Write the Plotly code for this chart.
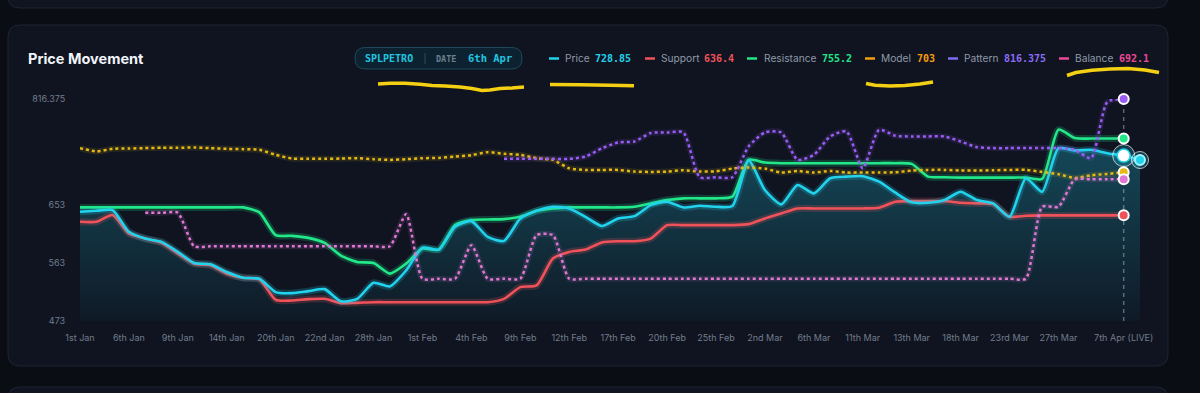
import plotly.graph_objects as go

# ---------------- data ----------------
TICK_INDEX = [0, 3, 6, 9, 12, 15, 18, 21, 24, 27, 30, 33, 36, 39, 42, 45, 48, 51, 54, 57, 60, 64]
TICK_LABELS = ["1st Jan", "6th Jan", "9th Jan", "14th Jan", "20th Jan", "22nd Jan", "28th Jan",
               "1st Feb", "4th Feb", "9th Feb", "12th Feb", "17th Feb", "20th Feb", "25th Feb",
               "2nd Mar", "6th Mar", "11th Mar", "13th Mar", "18th Mar", "23rd Mar", "27th Mar",
               "7th Apr (LIVE)"]

PRICE = [642.0, 643.5, 644.5, 610.9, 600.5, 595.4, 579.8, 562.7, 560.7, 548.7,
         539.9, 538.4, 517.7, 516.1, 519.2, 522.3, 503.5, 507.3, 532.2, 526.5,
         551.3, 586.5, 583.4, 618.7, 627.5, 603.1, 596.9, 631.6, 643.5, 649.7,
         647.1, 634.2, 620.0, 631.6, 635.2, 652.3, 657.5, 648.7, 651.3, 649.7,
         650.8, 721.2, 675.6, 653.4, 683.4, 670.4, 693.8, 696.3, 697.0, 688.6,
         671.5, 656.5, 655.9, 660.1, 673.0, 660.1, 654.9, 634.2, 693.8, 673.0,
         740.4, 736.7, 737.8, 732.6, 728.85, 722.0]

SUPPORT = [626.4, 626.4, 636.8, 608.3, 600.5, 593.8, 577.2, 561.7, 559.1, 546.2,
           539.9, 537.3, 505.8, 504.7, 506.8, 507.3, 500.6, 501.1, 502.1, 502.1,
           502.1, 502.1, 502.1, 502.1, 502.1, 502.1, 507.3, 525.4, 528.0, 569.5,
           579.8, 583.4, 594.5, 596.4, 596.4, 600.5, 621.3, 621.3, 621.3, 621.3,
           621.3, 622.8, 631.6, 639.4, 647.1, 647.1, 647.1, 647.1, 647.1, 648.2,
           657.5, 658.5, 658.5, 658.5, 655.9, 654.9, 653.9, 634.2, 635.8, 636.3,
           636.3, 636.3, 636.3, 636.3, 636.4]

RESISTANCE = [648.7, 648.7, 648.7, 648.7, 648.7, 648.7, 648.7, 648.7, 648.7, 648.7,
              648.7, 641.0, 605.7, 604.7, 601.6, 593.8, 574.0, 564.3, 562.7, 546.2,
              561.7, 585.0, 583.4, 621.3, 629.0, 630.0, 630.6, 634.2, 643.5, 647.1,
              648.7, 648.7, 648.7, 648.7, 649.7, 654.9, 660.1, 662.7, 662.7, 662.7,
              665.3, 722.2, 718.1, 717.1, 717.1, 717.1, 717.1, 717.1, 717.1, 717.1,
              717.1, 716.0, 696.3, 695.3, 694.8, 694.8, 694.8, 694.8, 694.8, 692.7,
              768.9, 755.9, 755.2, 755.2, 755.2]

MODEL = [740.4, 735.2, 739.3, 739.8, 740.4, 740.9, 740.9, 741.4, 740.4, 739.3,
         738.8, 737.8, 730.0, 724.3, 723.8, 723.8, 724.3, 724.8, 723.3, 722.2,
         723.3, 724.8, 725.3, 727.4, 729.5, 734.2, 731.6, 730.0, 724.8, 722.2,
         709.3, 706.7, 706.7, 706.7, 704.1, 703.6, 704.1, 706.2, 704.1, 704.6,
         708.8, 710.3, 708.8, 702.6, 705.1, 702.6, 705.1, 702.6, 702.6, 702.6,
         703.1, 705.7, 706.7, 706.7, 705.7, 705.7, 706.2, 706.7, 706.7, 703.6,
         700.0, 694.3, 698.4, 700.5, 703]

PATTERN = [None, None, None, None, None, None, None, None, None, None,
           None, None, None, None, None, None, None, None, None, None,
           None, None, None, None, None, None, 723.8, 723.8, 723.8, 723.8,
           723.8, 727.4, 740.0, 749.2, 750.7, 763.7, 764.7, 764.7, 695.3, 695.3,
           695.3, 743.0, 764.7, 764.7, 722.2, 730.0, 758.5, 766.3, 709.3, 768.8,
           759.5, 758.5, 758.5, 758.5, 750.7, 741.9, 740.4, 740.4, 740.4, 740.4,
           740.4, 737.8, 724.8, 812.0, 816.375]

BALANCE = [None, None, None, None, 640.4, 640.4, 640.4, 588.6, 588.6, 588.6,
           588.6, 588.6, 588.6, 588.6, 588.6, 588.6, 588.6, 588.6, 588.6, 588.6,
           638.3, 538.4, 538.4, 538.4, 590.2, 538.4, 538.4, 538.4, 605.7, 605.7,
           538.4, 538.4, 538.4, 538.4, 538.4, 538.4, 538.4, 538.4, 538.4, 538.4,
           538.4, 538.4, 538.4, 538.4, 538.4, 538.4, 538.4, 538.4, 538.4, 538.4,
           538.4, 538.4, 538.4, 538.4, 538.4, 538.4, 538.4, 538.4, 538.4, 649.7,
           649.7, 692.1, 692.1, 692.1, 692.1]

Y_TICKS = [473, 563, 653, 816.375]
Y_RANGE = [473, 816.375]
TICKER = "SPLPETRO"
DATE_LABEL = "6th Apr"

# ---------------- styling ----------------
C_PRICE = "#22d3ee"
C_SUPPORT = "#f0525a"
C_RES = "#22e889"
C_MODEL = "#e5b814"
C_MODEL_TXT = "#f59e0b"
C_PATTERN = "#9b5cf6"
C_BALANCE = "#de78d2"
C_BALANCE_TXT = "#ec4899"
PAGE_BG = "#0a0d14"

W, H = 1200, 393
PL, PR, PT, PB = 80, 1140, 99, 321  # plot area in pixels


def px(x):
    return (x - PL) / (PR - PL)


def py(y):
    return (PB - y) / (PB - PT)


LIVE = len(SUPPORT) - 1
X_ALL = list(range(len(PRICE)))
X = list(range(len(SUPPORT)))

fig = go.Figure()

SPL = dict(shape="spline", smoothing=0.6)

# price area fill
fig.add_trace(go.Scatter(
    x=X_ALL, y=PRICE, mode="lines", line=dict(width=0, **SPL), fill="tozeroy",
    fillgradient=dict(type="vertical", start=473, stop=740,
                      colorscale=[[0, "rgba(34,211,238,0.03)"], [1, "rgba(34,211,238,0.27)"]]),
    hoverinfo="skip", showlegend=False))

# glows + solid lines
for ys, col, xs in [(SUPPORT, C_SUPPORT, X), (RESISTANCE, C_RES, X), (PRICE, C_PRICE, X_ALL)]:
    fig.add_trace(go.Scatter(x=xs, y=ys, mode="lines", opacity=0.2,
                             line=dict(color=col, width=7, **SPL),
                             hoverinfo="skip", showlegend=False))
    fig.add_trace(go.Scatter(x=xs, y=ys, mode="lines",
                             line=dict(color=col, width=2.6, **SPL),
                             hoverinfo="skip", showlegend=False))

# dotted lines
for ys, col in [(MODEL, C_MODEL), (PATTERN, C_PATTERN), (BALANCE, C_BALANCE)]:
    fig.add_trace(go.Scatter(x=X, y=ys, mode="lines", opacity=0.12,
                             line=dict(color=col, width=6, **SPL),
                             hoverinfo="skip", showlegend=False))
    fig.add_trace(go.Scatter(x=X, y=ys, mode="lines",
                             line=dict(color=col, width=2.5, dash="3px,3px", **SPL),
                             hoverinfo="skip", showlegend=False))

# end markers
for ys, col in [(SUPPORT, C_SUPPORT), (RESISTANCE, C_RES), (MODEL, C_MODEL),
                (PATTERN, C_PATTERN), (BALANCE, C_BALANCE)]:
    fig.add_trace(go.Scatter(x=[LIVE], y=[ys[LIVE]], mode="markers", cliponaxis=False,
                             marker=dict(size=10, color=col, line=dict(color="#ffffff", width=2)),
                             hoverinfo="skip", showlegend=False))

# price active + projected point
fig.add_trace(go.Scatter(x=[LIVE, LIVE + 1], y=[PRICE[LIVE], PRICE[LIVE + 1]], mode="markers",
                         cliponaxis=False,
                         marker=dict(size=[22, 17], color="rgba(34,211,238,0.3)"),
                         hoverinfo="skip", showlegend=False))
fig.add_trace(go.Scatter(x=[LIVE], y=[PRICE[LIVE]], mode="markers", cliponaxis=False,
                         marker=dict(size=13, color="#ffffff", line=dict(color=C_PRICE, width=1.5)),
                         hoverinfo="skip", showlegend=False))
fig.add_trace(go.Scatter(x=[LIVE + 1], y=[PRICE[LIVE + 1]], mode="markers", cliponaxis=False,
                         marker=dict(size=10, color=C_PRICE, line=dict(color="#a5f3fc", width=2)),
                         hoverinfo="skip", showlegend=False))

shapes = []


def rrect(x0, y0, x1, y1, r):
    pts = [("M", x0 + r, y0), ("L", x1 - r, y0), ("Q", x1, y0, x1, y0 + r), ("L", x1, y1 - r),
           ("Q", x1, y1, x1 - r, y1), ("L", x0 + r, y1), ("Q", x0, y1, x0, y1 - r),
           ("L", x0, y0 + r), ("Q", x0, y0, x0 + r, y0)]
    out = []
    for p in pts:
        cmd = p[0]
        coords = p[1:]
        s = " ".join(f"{px(coords[i]):.5f},{py(coords[i + 1]):.5f}" for i in range(0, len(coords), 2))
        out.append(f"{cmd} {s}")
    return " ".join(out) + " Z"


# cards
for (x0, y0, x1, y1) in [(8, -30, 1168, 8), (8, 25, 1168, 366), (8, 387, 1168, 430)]:
    shapes.append(dict(type="path", xref="paper", yref="paper", path=rrect(x0, y0, x1, y1, 12),
                       fillcolor="#0f1420", line=dict(color="#1d2433", width=1), layer="below"))

# badge
shapes.append(dict(type="path", xref="paper", yref="paper", path=rrect(355, 47.5, 522, 69, 10.5),
                   fillcolor="#0d2230", line=dict(color="#1c4a5a", width=1), layer="below"))
shapes.append(dict(type="line", xref="paper", yref="paper", x0=px(425), x1=px(425), y0=py(53), y1=py(64),
                   line=dict(color="#2b4a58", width=1)))

# live vertical dashed line
shapes.append(dict(type="line", xref="x", yref="paper", x0=LIVE, x1=LIVE, y0=0, y1=1,
                   line=dict(color="#5b6576", width=1.5, dash="4px,4px"), layer="below"))

annotations = []


def text(x, y, s, size, color, family, anchor="left", bold=False):
    annotations.append(dict(xref="paper", yref="paper", x=px(x), y=py(y), text=(f"<b>{s}</b>" if bold else s),
                            showarrow=False, xanchor=anchor, yanchor="middle",
                            font=dict(size=size, color=color, family=family), borderpad=0))


MONO = "DejaVu Sans Mono"
SANS = "Inter"

text(27, 58, "Price Movement", 14.5, "#f1f5f9", SANS, bold=True)
text(364, 58.5, TICKER, 10, "#22c5e0", MONO, bold=True)
text(435, 59, "DATE", 8.5, "#6b7f8c", MONO, bold=True)
text(467, 58.5, DATE_LABEL, 10.5, "#22c5e0", MONO, bold=True)

legend = [
    ("Price", PRICE[LIVE], C_PRICE, C_PRICE, 549, 564, 594),
    ("Support", SUPPORT[LIVE], C_SUPPORT, C_SUPPORT, 645, 660, 703),
    ("Resistance", RESISTANCE[LIVE], C_RES, C_RES, 747, 763, 821),
    ("Model", MODEL[LIVE], C_MODEL_TXT, C_MODEL_TXT, 865, 880, 916),
    ("Pattern", PATTERN[LIVE], "#7c6cf0", "#8b6cf6", 948, 963, 1003),
    ("Balance", BALANCE[LIVE], C_BALANCE_TXT, C_BALANCE_TXT, 1059, 1074, 1118),
]
for name, val, dcol, vcol, xd, xl, xv in legend:
    shapes.append(dict(type="line", xref="paper", yref="paper", x0=px(xd), x1=px(xd + 10), y0=py(58.5),
                       y1=py(58.5), line=dict(color=dcol, width=2.5)))
    text(xl, 58.5, name, 10.2, "#8f99a8", SANS)
    text(xv, 58.5, f"{val:g}", 10, vcol, MONO, bold=True)

# hand-drawn yellow highlight strokes
SCRIBBLES = [
    [(378, 84), (390, 83.3), (405, 83.3), (420, 84.3), (432, 85.5), (445, 86), (460, 87), (472, 88.5),
     (482, 90.5), (490, 90), (500, 88.5), (512, 88), (524, 87)],
    [(550, 84.5), (580, 84.8), (610, 85.2), (634, 85.8)],
    [(866, 83.5), (875, 85.3), (890, 86), (905, 85.5), (920, 84), (933, 82)],
    [(1067, 75.5), (1076, 72.5), (1092, 70.3), (1110, 69), (1128, 68.6), (1145, 70), (1159, 72.5)],
]
for pts in SCRIBBLES:
    path = "M " + " L ".join(f"{px(a):.5f},{py(b):.5f}" for a, b in pts)
    shapes.append(dict(type="path", xref="paper", yref="paper", path=path,
                       line=dict(color="#f5cf12", width=3.5)))

fig.update_layout(
    width=W, height=H,
    margin=dict(l=PL, r=W - PR, t=PT, b=H - PB, pad=0),
    paper_bgcolor=PAGE_BG, plot_bgcolor="rgba(0,0,0,0)",
    showlegend=False,
    shapes=shapes, annotations=annotations,
    xaxis=dict(range=[0, len(PRICE) - 1], tickvals=TICK_INDEX, ticktext=TICK_LABELS,
               showgrid=False, zeroline=False, showline=False,
               ticks="outside", ticklen=8, tickcolor="rgba(0,0,0,0)",
               tickfont=dict(size=9, color="#737c8c", family=SANS), fixedrange=True),
    yaxis=dict(range=Y_RANGE, tickvals=Y_TICKS, ticktext=[f"{v:g}" for v in Y_TICKS],
               showgrid=False, zeroline=False, showline=False,
               ticks="outside", ticklen=12, tickcolor="rgba(0,0,0,0)",
               tickfont=dict(size=9, color="#737c8c", family=SANS), fixedrange=True),
)

fig.write_html(
    "out.html",
    config={"displayModeBar": False},
    post_script=f"document.body.style.margin='0';document.body.style.background='{PAGE_BG}';"
                "document.body.style.overflow='hidden';",
)
